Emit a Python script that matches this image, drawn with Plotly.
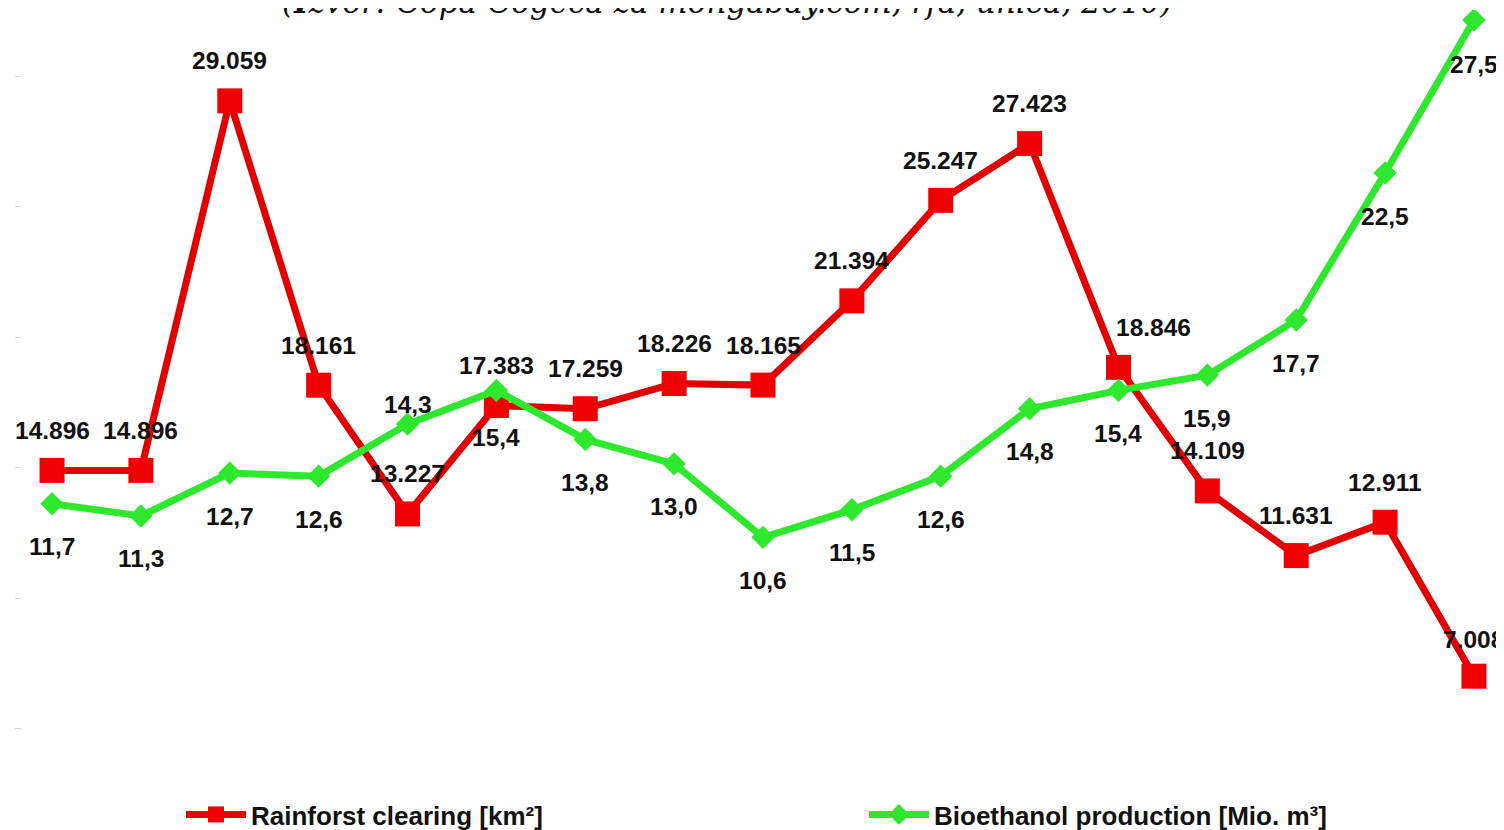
import plotly.graph_objects as go

# ---- data ----
years = list(range(1993, 2010))
rainforest_clearing_km2 = [14896, 14896, 29059, 18161, 13227, 17383, 17259, 18226,
                           18165, 21394, 25247, 27423, 18846, 14109, 11631, 12911, 7008]
bioethanol_mio_m3 = [11.7, 11.3, 12.7, 12.6, 14.3, 15.4, 13.8, 13.0, 10.6,
                     11.5, 12.6, 14.8, 15.4, 15.9, 17.7, 22.5, 27.5]

red_name = "Rainforst clearing [km²]"
green_name = "Bioethanol production [Mio. m³]"
source_text = "(<b>I</b>zvor: Copa-Cogeca za mongabay.com, rfa, unica, 2010)"

# ---- style ----
RED_LINE = "#e00000"
RED_MARK = "#f00000"
GREEN = "#2ee82e"
LABEL_FONT = dict(family="Arial, Liberation Sans, sans-serif", size=24.5, color="#111111")
FIG_W, FIG_H = 1496, 830          # page adds an 8px body margin
M_L, M_T = 14, 2
PLOT_W, PLOT_H = FIG_W - M_L, FIG_H - M_T

# label offsets (pixels): default and exceptions by index
red_shift_default = (0, 40)
red_shift_exc = {12: (35, 40), 16: (0, 37)}
green_shift_default = (0, -43)
green_shift_exc = {4: (0, 20), 5: (0, -47), 16: (0, -45)}

fig = go.Figure()

fig.add_trace(go.Scatter(
    x=years, y=rainforest_clearing_km2, name="<b>" + red_name + "</b>", mode="lines+markers",
    line=dict(color=RED_LINE, width=7),
    marker=dict(symbol="square", size=25, color=RED_MARK),
    yaxis="y", legend="legend", hoverinfo="skip",
))
fig.add_trace(go.Scatter(
    x=years, y=bioethanol_mio_m3, name="<b>" + green_name + "</b>", mode="lines+markers",
    line=dict(color=GREEN, width=7),
    marker=dict(symbol="diamond", size=18, color=GREEN),
    yaxis="y2", legend="legend2", hoverinfo="skip",
))

annotations = []
for i, (yr, v) in enumerate(zip(years, rainforest_clearing_km2)):
    dx, dy = red_shift_exc.get(i, red_shift_default)
    annotations.append(dict(
        x=yr, y=v, xref="x", yref="y", text=f"<b>{v:,}</b>".replace(",", "."),
        showarrow=False, xshift=dx, yshift=dy, font=LABEL_FONT,
    ))
for i, (yr, v) in enumerate(zip(years, bioethanol_mio_m3)):
    dx, dy = green_shift_exc.get(i, green_shift_default)
    annotations.append(dict(
        x=yr, y=v, xref="x", yref="y2", text="<b>" + f"{v:.1f}".replace(".", ",") + "</b>",
        showarrow=False, xshift=dx, yshift=dy, font=LABEL_FONT,
    ))
annotations.append(dict(
    x=(719 - M_L) / PLOT_W, xref="paper", y=1, yref="paper",
    text="<i>" + source_text + "</i>", showarrow=False, yanchor="middle", yshift=8,
    font=dict(family="DejaVu Serif, Liberation Serif, serif", size=31, color="#111111"),
))

legend_font = dict(family="Arial, Liberation Sans, sans-serif", size=26, color="#111111")
legend_y = (FIG_H - 807) / PLOT_H

fig.update_layout(
    width=FIG_W, height=FIG_H,
    paper_bgcolor="white", plot_bgcolor="white",
    margin=dict(l=M_L, r=0, t=M_T, b=0),
    xaxis=dict(range=[1992.662, 2009.338], showticklabels=False, showgrid=False,
               zeroline=False, showline=False, ticks=""),
    yaxis=dict(range=[844, 32543], showticklabels=False, showgrid=False, zeroline=False,
               showline=False, ticks="outside", ticklen=6, tickcolor="#d8d8d8",
               tick0=0, dtick=5000),
    yaxis2=dict(range=[0.813, 27.826], overlaying="y", side="right", showticklabels=False,
                showgrid=False, zeroline=False, showline=False, ticks=""),
    legend=dict(x=(173 - M_L) / PLOT_W, y=legend_y, xanchor="left", yanchor="middle",
                orientation="h", font=legend_font, itemwidth=60, bgcolor="rgba(0,0,0,0)"),
    legend2=dict(x=(856 - M_L) / PLOT_W, y=legend_y, xanchor="left", yanchor="middle",
                 orientation="h", font=legend_font, itemwidth=60, bgcolor="rgba(0,0,0,0)"),
    annotations=annotations,
    showlegend=True,
)

fig.write_html("out.html")
